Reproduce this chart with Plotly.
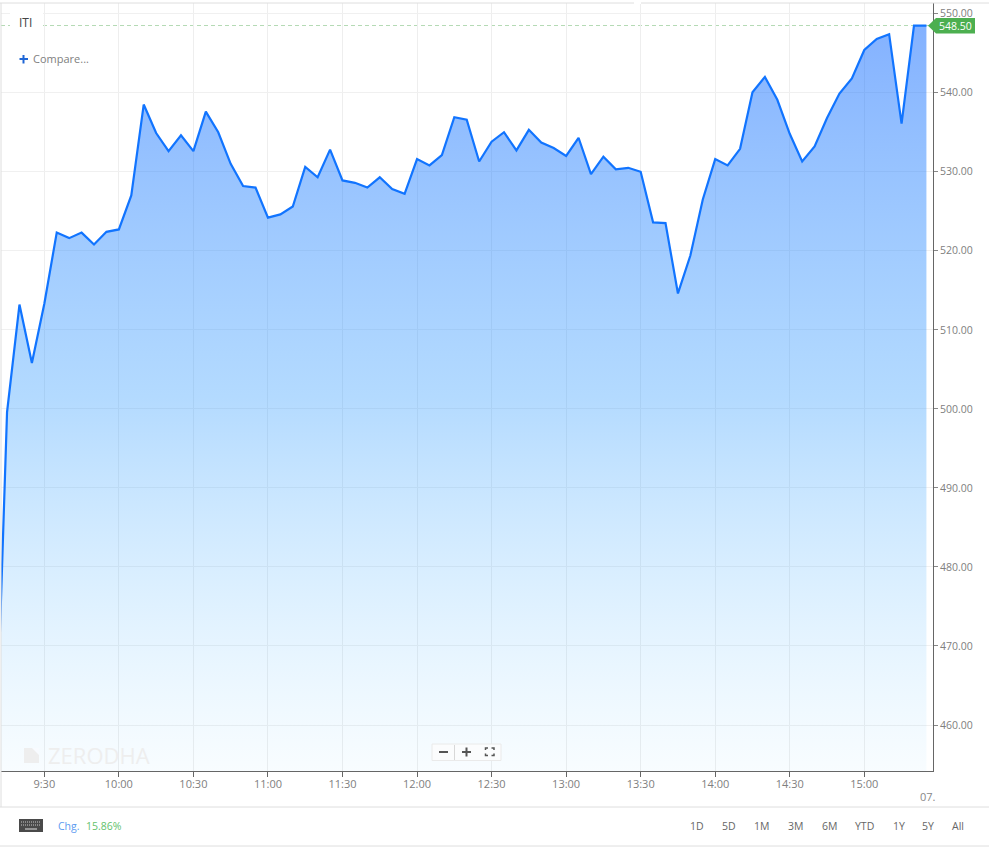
import pandas as pd
import plotly.graph_objects as go

# ---- data ----
times = ["09:10","09:15","09:20","09:25","09:30","09:35","09:40","09:45","09:50","09:55",
         "10:00","10:05","10:10","10:15","10:20","10:25","10:30","10:35","10:40","10:45","10:50","10:55",
         "11:00","11:05","11:10","11:15","11:20","11:25","11:30","11:35","11:40","11:45","11:50","11:55",
         "12:00","12:05","12:10","12:15","12:20","12:25","12:30","12:35","12:40","12:45","12:50","12:55",
         "13:00","13:05","13:10","13:15","13:20","13:25","13:30","13:35","13:40","13:45","13:50","13:55",
         "14:00","14:05","14:10","14:15","14:20","14:25","14:30","14:35","14:40","14:45","14:50","14:55",
         "15:00","15:05","15:10","15:15","15:20","15:25"]
prices = [451.0,499.6,513.2,505.8,513.3,522.3,521.6,522.3,520.8,522.4,
          522.7,527.0,538.5,534.9,532.6,534.6,532.6,537.6,535.0,531.0,528.2,528.0,
          524.2,524.6,525.6,530.6,529.3,532.8,528.9,528.6,528.0,529.3,527.8,527.2,
          531.6,530.8,532.1,536.9,536.6,531.3,533.8,535.0,532.7,535.3,533.7,533.0,
          532.0,534.3,529.7,531.9,530.3,530.5,530.0,523.6,523.5,514.6,519.4,526.5,
          531.6,530.8,532.9,540.05,542.0,539.1,534.8,531.3,533.2,536.8,539.9,541.8,
          545.4,546.8,547.4,536.1,548.5,548.5]
time_ticks = ["09:30","10:00","10:30","11:00","11:30","12:00","12:30","13:00","13:30","14:00","14:30","15:00"]
time_labels = ["9:30","10:00","10:30","11:00","11:30","12:00","12:30","13:00","13:30","14:00","14:30","15:00"]
price_ticks = [460,470,480,490,500,510,520,530,540,550]
price_labels = [f"{v:.2f}" for v in price_ticks]
last_price = 548.5
symbol = "ITI"
change = "15.86%"
ranges = ["1D","5D","1M","3M","6M","YTD","1Y","5Y","All"]
range_px = [697,729,761,795,829,864,899,928,958]

DAY = "2021-07-07 "
xs = pd.to_datetime([DAY + t for t in times])
tickx = pd.to_datetime([DAY + t for t in time_ticks])

W, H = 989, 847
L, R, T, B = 1, 933, 3, 771
FONT = "Open Sans"
px = lambda v: (v - L) / (R - L)
py = lambda v: (B - v) / (B - T)

fig = go.Figure()
fig.add_trace(go.Scatter(
    x=xs, y=prices, mode="lines",
    line=dict(color="#1174ff", width=2.2), fill="tozeroy", hoverinfo="skip",
    fillgradient=dict(type="vertical", start=454, stop=549,
                      colorscale=[[0, "rgba(120,205,255,0.05)"],
                                  [0.5, "rgba(50,155,255,0.37)"],
                                  [1, "rgba(17,105,255,0.52)"]]),
))


def rect(x0, y0, x1, y1, **kw):
    return dict(type="rect", xref="paper", yref="paper", x0=px(x0), x1=px(x1), y0=py(y0), y1=py(y1), **kw)


def seg(x0, y0, x1, y1, color, width=1):
    return dict(type="line", xref="paper", yref="paper", x0=px(x0), x1=px(x1), y0=py(y0), y1=py(y1),
                line=dict(color=color, width=width))


def path(pts, fill=None, color=None, width=1, close=True):
    d = "M " + " L ".join(f"{px(a):.5f},{py(b):.5f}" for a, b in pts) + (" Z" if close else "")
    return dict(type="path", xref="paper", yref="paper", path=d,
                fillcolor=fill if fill else "rgba(0,0,0,0)",
                line=dict(color=color if color else "rgba(0,0,0,0)", width=width))


shapes = [
    # frame
    seg(0, 3, 989, 3, "#dedede"), seg(1, 3, 1, 807, "#dedede"),
    seg(0, 807, 989, 807, "#dedede"), seg(0, 846, 989, 846, "#dedede"),
    seg(634, 3, 641, 3, "#ffffff", 2),
    # last price line
    dict(type="line", xref="paper", yref="y", x0=0, x1=1, y0=last_price, y1=last_price, layer="below",
         line=dict(color="#b4dab4", width=1, dash="4px,3px")),
    # symbol background
    rect(10, 10, 43, 33, fillcolor="#ffffff", line=dict(width=0)),
    # price tag
    path([(928, 25.8), (936, 18), (975, 18), (975, 33.5), (936, 33.5)], fill="#4caf50"),
    # compare plus
    seg(19.5, 59, 28, 59, "#1f66d6", 2), seg(23.5, 55, 23.5, 63.5, "#1f66d6", 2),
    # watermark logo
    path([(24, 748), (39, 748), (39, 763), (24, 763)], fill="#eeeeee"),
    path([(32, 748), (39, 748), (39, 755)], fill="#f8fbff"),
    # zoom box
    rect(432, 744, 501, 760.5, fillcolor="#fbfcfd", line=dict(color="#eaeaea", width=1)),
    seg(454.5, 745, 454.5, 760, "#d8d8d8"),
    seg(439, 752, 448, 752, "#555555", 2),
    seg(462, 752, 471, 752, "#555555", 2), seg(466.5, 747.5, 466.5, 756.5, "#555555", 2),
    path([(485.5, 750), (485.5, 748), (488, 748)], color="#555555", width=1.5, close=False),
    path([(491.5, 748), (494, 748), (494, 750)], color="#555555", width=1.5, close=False),
    path([(485.5, 753.5), (485.5, 755.5), (488, 755.5)], color="#555555", width=1.5, close=False),
    path([(491.5, 755.5), (494, 755.5), (494, 753.5)], color="#555555", width=1.5, close=False),
    # keyboard
    rect(19, 819, 43, 832, fillcolor="#4a4a4a", line=dict(width=0)),
    dict(seg(21, 822, 41, 822, "#c8c8c8", 1.2), line=dict(color="#c8c8c8", width=1.2, dash="1px,1px")),
    dict(seg(21, 825, 41, 825, "#c8c8c8", 1.2), line=dict(color="#c8c8c8", width=1.2, dash="1px,1px")),
    seg(25, 829, 37, 829, "#c8c8c8", 1.2),
]


def note(text, x, y, size=11, color="#777777", anchor="left", **kw):
    return dict(text=text, xref="paper", yref="paper", x=px(x), y=py(y), showarrow=False,
                xanchor=anchor, yanchor="middle", font=dict(family=FONT, size=size, color=color),
                borderpad=0, **kw)


annotations = [
    note(symbol, 18, 22.5, size=12, color="#444444"),
    note("Compare...", 32, 59, size=11, color="#808080"),
    note(f"{last_price:.2f}", 955.5, 25.8, size=10.5, color="#ffffff", anchor="center"),
    note("ZERODHA", 47, 755, size=22, color="#eeeeee"),
    note("07.", 919, 796, size=11, color="#888888"),
    note("Chg.", 57, 826, size=10.5, color="#5c9bf0"),
    note(change, 85, 826, size=10.5, color="#63c26b"),
] + [note(r, p, 826, size=10.5, color="#666666", anchor="center") for r, p in zip(ranges, range_px)]

fig.update_layout(
    width=W, height=H, paper_bgcolor="#ffffff", plot_bgcolor="#ffffff", showlegend=False,
    margin=dict(l=L, r=W - R, t=T, b=H - B, pad=0),
    font=dict(family=FONT, size=11, color="#808080"),
    shapes=shapes, annotations=annotations,
    xaxis=dict(type="date", range=[DAY + "09:12:34", DAY + "15:27:39"], tickmode="array",
               tickvals=tickx, ticktext=time_labels, showgrid=True, gridcolor="#eeeeee", gridwidth=1,
               ticks="outside", ticklen=5, tickcolor="#666666", showline=True, linecolor="#666666",
               linewidth=1, tickfont=dict(family=FONT, size=11, color="#808080"), zeroline=False,
               ticklabelstandoff=-2),
    yaxis=dict(side="right", range=[454.18, 551.35], tickmode="array", tickvals=price_ticks,
               ticktext=price_labels, showgrid=True, gridcolor="#f0f0f0", gridwidth=1,
               ticks="outside", ticklen=4, tickcolor="#888888", showline=True, linecolor="#666666",
               linewidth=1, tickfont=dict(family=FONT, size=10.5, color="#808080"), zeroline=False),
)

fig.write_html("out.html", post_script="document.body.style.margin='0';", config={"displayModeBar": False})
